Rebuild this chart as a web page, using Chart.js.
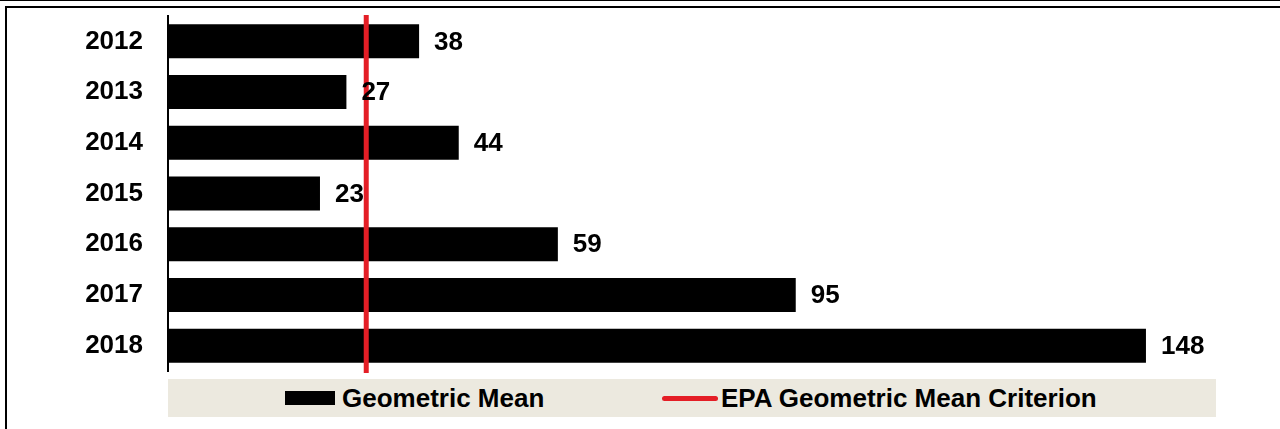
<!DOCTYPE html>
<html lang="en">
<head>
  <meta charset="UTF-8">
  <title>Geometric Mean by Year</title>
  <script src="https://cdn.jsdelivr.net/npm/chart.js"></script>
  <style>
    html, body {
      margin: 0;
      padding: 0;
      background: #fff;
      font-family: "Liberation Sans", Arial, Helvetica, sans-serif;
    }
    #page {
      position: relative;
      width: 1280px;
      height: 429px;
      overflow: hidden;
    }
    #topline {
      position: absolute;
      left: 0; top: 0;
      width: 1280px; height: 1px;
      background: #000;
    }
    #frame {
      position: absolute;
      left: 5px; top: 6px;
      width: 1300px; height: 500px;
      border-top: 2px solid #000;
      border-left: 2px solid #000;
    }
    #chart-container {
      position: absolute;
      left: 0; top: 0;
      width: 1280px; height: 429px;
    }
    #legend {
      position: absolute;
      left: 168px; top: 379px;
      width: 1048px; height: 38px;
      background: #ECE9DF;
    }
    .lg-item {
      position: absolute;
      top: 0;
      height: 38px;
      line-height: 38px;
      font-size: 26px;
      font-weight: bold;
      color: #000;
      white-space: nowrap;
    }
    .lg-swatch {
      position: absolute;
    }
  </style>
</head>
<body>
  <div id="page">
    <div id="topline"></div>
    <div id="frame"></div>
    <div id="chart-container">
      <canvas id="gmChart" width="1280" height="429"></canvas>
    </div>
    <div id="legend">
      <div class="lg-swatch" style="left:117px; top:12px; width:50px; height:14px; background:#000;"></div>
      <div class="lg-item" id="lg0" style="left:174px;"></div>
      <div class="lg-swatch" style="left:494px; top:17px; width:56px; height:5px; border-radius:3px; background:#E41E26;"></div>
      <div class="lg-item" id="lg1" style="left:553px;"></div>
    </div>
  </div>

  <script>
    const years = ['2012', '2013', '2014', '2015', '2016', '2017', '2018'];
    const geoMean = [38, 27, 44, 23, 59, 95, 148];
    const criterion = 30;
    const seriesNames = ['Geometric Mean', 'EPA Geometric Mean Criterion'];

    const FONT = '"Liberation Sans", Arial, Helvetica, sans-serif';

    document.getElementById('lg0').textContent = seriesNames[0];
    document.getElementById('lg1').textContent = seriesNames[1];

    // red vertical criterion line, placed with the x scale
    const criterionLine = {
      id: 'criterionLine',
      afterDatasetsDraw(chart) {
        const { ctx, chartArea, scales } = chart;
        const x = scales.x.getPixelForValue(criterion);
        ctx.save();
        ctx.strokeStyle = '#E41E26';
        ctx.lineWidth = 5;
        ctx.beginPath();
        ctx.moveTo(x, chartArea.top - 1);
        ctx.lineTo(x, chartArea.bottom + 2);
        ctx.stroke();
        ctx.restore();
      }
    };

    // value labels to the right of each bar
    const valueLabels = {
      id: 'valueLabels',
      afterDraw(chart) {
        const { ctx } = chart;
        const meta = chart.getDatasetMeta(0);
        ctx.save();
        ctx.font = 'bold 26px ' + FONT;
        ctx.fillStyle = '#000';
        ctx.textAlign = 'left';
        ctx.textBaseline = 'middle';
        meta.data.forEach((bar, i) => {
          ctx.fillText(String(geoMean[i]), bar.x + 15, bar.y + 1);
        });
        ctx.restore();
      }
    };

    new Chart(document.getElementById('gmChart'), {
      type: 'bar',
      data: {
        labels: years,
        datasets: [{
          label: seriesNames[0],
          data: geoMean,
          backgroundColor: '#000',
          borderWidth: 0,
          categoryPercentage: 1,
          barPercentage: 0.67
        }]
      },
      options: {
        indexAxis: 'y',
        responsive: false,
        animation: false,
        layout: { padding: { left: 0, right: 64, top: 16, bottom: 58 } },
        scales: {
          x: {
            display: false,
            min: 0,
            max: 158.6
          },
          y: {
            grid: { display: false, drawTicks: false },
            border: { display: true, color: '#000', width: 2 },
            ticks: {
              color: '#000',
              padding: 25,
              font: { family: FONT, size: 26, weight: 'bold' }
            },
            afterFit(scale) {
              scale.width = 168;
              scale.paddingTop = 0;
              scale.paddingBottom = 0;
            }
          }
        },
        plugins: {
          legend: { display: false },
          tooltip: { enabled: false }
        }
      },
      plugins: [criterionLine, valueLabels]
    });
  </script>
</body>
</html>
